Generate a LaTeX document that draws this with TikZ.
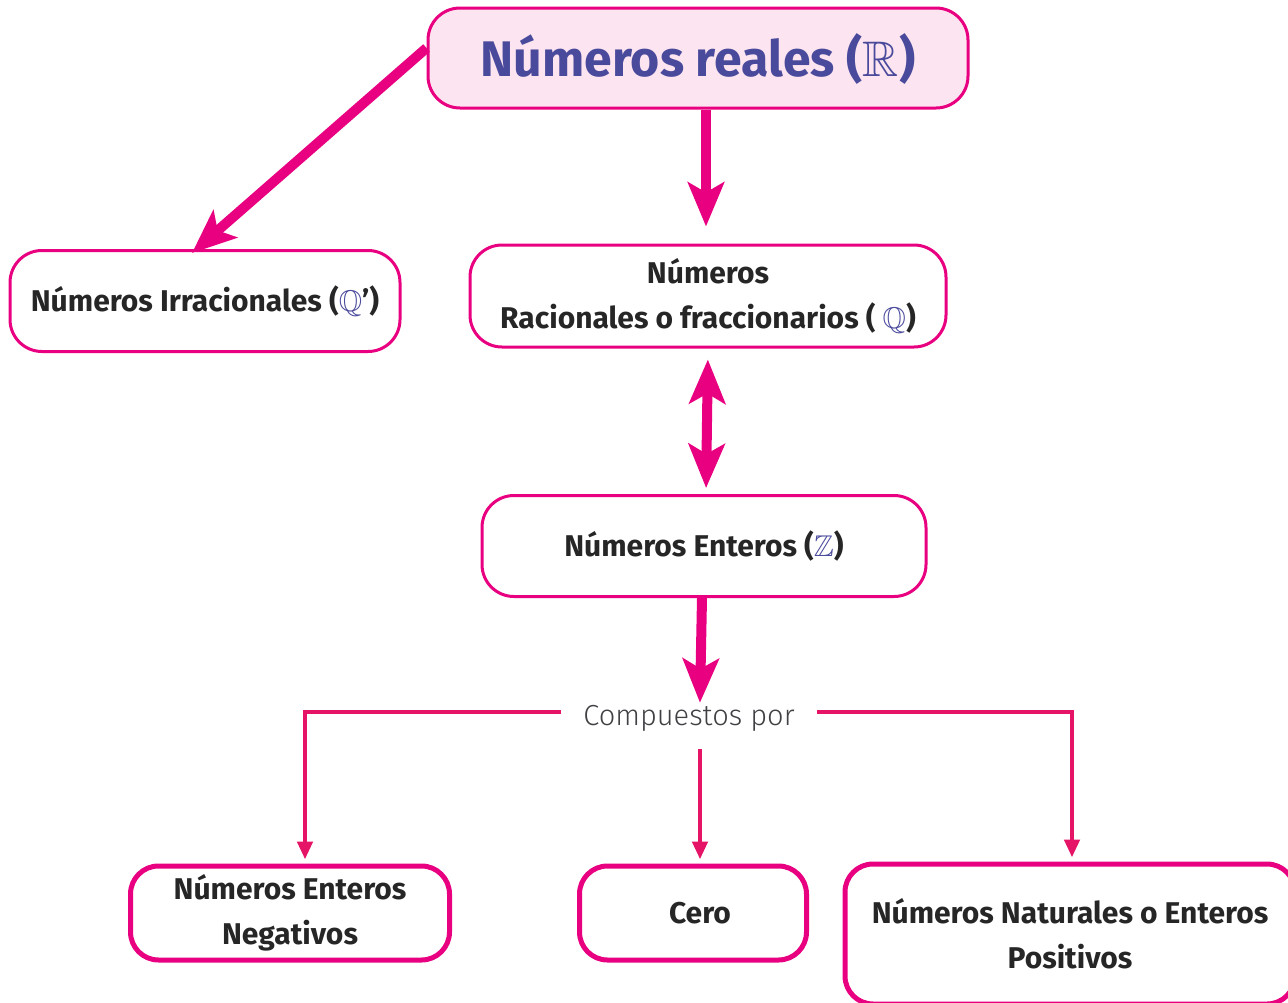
\documentclass[tikz,border=0pt]{standalone}
\usepackage{amssymb}
\usepackage{fontspec}
\setmainfont{Fira Sans}
\newfontfamily\lightFont{Fira Sans Light}
\usetikzlibrary{
  arrows.meta,
  positioning,
  calc
}
\definecolor{hotPink}{rgb}{0.91,0.0,0.5}
\definecolor{lineRed}{rgb}{0.9,0.08,0.4}
\definecolor{palePink}{rgb}{0.99,0.9,0.94}
\definecolor{titleBlue}{rgb}{0.29,0.29,0.61}
\definecolor{textGray}{rgb}{0.25,0.25,0.27}
\newcommand{\setSym}[1]{\textcolor{titleBlue}{$\mathbb{#1}$}}
\tikzset{
  box/.style={
    draw=hotPink,
    line width=3pt,
    rounded corners=32pt,
    fill=white,
    align=center,
    font=\fontsize{30}{45}\selectfont\bfseries,
    text=black!85
  }
}
\tikzset{
  leafBox/.style={
    box,
    line width=5pt,
    rounded corners=28pt
  }
}
\tikzset{
  bigArrow/.style={
    draw=hotPink,
    line width=10pt,
    -{Stealth[length=44pt,width=36pt,inset=10pt]}
  }
}
\tikzset{
  smallArrow/.style={
    draw=lineRed,
    line width=4.5pt,
    -{Triangle[length=18pt,width=15pt]}
  }
}

\begin{document}
\begin{tikzpicture}[x=1pt,y=-1pt]
  \useasboundingbox (0,0) rectangle (1288,1002);

  \node[box, fill=palePink, minimum width=540pt, minimum height=100pt,
    font=\fontsize{50}{60}\selectfont\bfseries, text=titleBlue, text depth=6pt]
    (reales) at (698,58) {Números reales (\setSym{R})};
  \node[box, minimum width=390pt, minimum height=101pt]
    (irracionales) at (205,301) {Números Irracionales (\setSym{Q}')};
  \node[box, minimum width=476pt, minimum height=102pt]
    (racionales) at (708,296) {Números\\Racionales o fraccionarios ( \setSym{Q})};
  \node[box, minimum width=444pt, minimum height=101pt]
    (enteros) at (704,546) {Números Enteros (\setSym{Z})};

  \node[font=\lightFont\fontsize{29}{35}\selectfont, text=textGray,
    inner xsep=22pt, inner ysep=4pt] (compuestos) at (689,718) {Compuestos por};

  \node[leafBox, minimum width=319pt, minimum height=94pt]
    (negativos) at (290,913) {Números Enteros\\Negativos};
  \node[leafBox, minimum width=227pt, minimum height=94pt]
    (cero) at (693,913) {\hspace*{14pt}Cero};
  \node[leafBox, minimum width=450pt, minimum height=140pt]
    (naturales) at (1070,934) {Números Naturales o Enteros\\Positivos};

  % thick arrows
  \draw[bigArrow] ([yshift=10pt]reales.west) -- ([xshift=-13pt,yshift=-4pt]irracionales.north);
  \draw[bigArrow, shorten >=17pt] ([xshift=8pt]reales.south) -- ([xshift=-2pt]racionales.north);
  \draw[bigArrow, {Stealth[length=44pt,width=36pt,inset=10pt]}-{Stealth[length=44pt,width=36pt,inset=10pt]},
    shorten <=11pt, shorten >=6pt] (racionales.south) -- ([xshift=2pt]enteros.north);
  \draw[bigArrow, shorten >=-2pt] ([xshift=-2pt]enteros.south) -- ([xshift=11pt]compuestos.north);

  % lower connectors
  \draw[smallArrow, shorten >=4pt] ([yshift=6pt]compuestos.west) -| ([xshift=15pt]negativos.north);
  \draw[smallArrow, shorten >=4pt] ([yshift=6pt]compuestos.east) -| ([xshift=2pt]naturales.north);
  \draw[smallArrow, shorten <=14pt, shorten >=4pt] ([xshift=11pt]compuestos.south) -- ([xshift=7pt]cero.north);
\end{tikzpicture}
\end{document}
